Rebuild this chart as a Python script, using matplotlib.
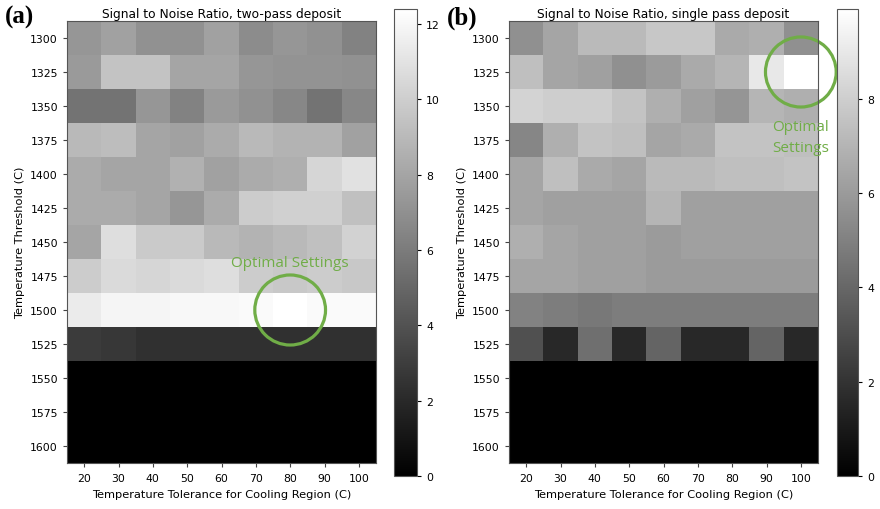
import numpy as np
import matplotlib
matplotlib.use("Agg")
import matplotlib.pyplot as plt
from matplotlib.patches import Circle

tolerance = [20, 30, 40, 50, 60, 70, 80, 90, 100]
threshold = [1300, 1325, 1350, 1375, 1400, 1425, 1450, 1475, 1500, 1525, 1550, 1575, 1600]

# signal to noise ratio, two-pass deposit (rows = threshold, cols = tolerance)
snr_two = [
    [7.3, 7.8, 7.05, 7.05, 7.8, 6.8, 7.3, 7.05, 6.3],
    [7.5, 9.5, 9.5, 8.0, 8.0, 7.3, 7.2, 7.2, 7.05],
    [5.6, 5.6, 7.3, 6.3, 7.5, 7.05, 6.55, 5.6, 6.55],
    [9.0, 9.2, 8.0, 7.8, 8.3, 9.0, 8.75, 8.75, 7.8],
    [8.3, 8.0, 8.0, 8.6, 7.8, 8.3, 8.5, 10.4, 10.9],
    [8.3, 8.3, 8.0, 7.3, 8.3, 9.9, 10.1, 10.1, 9.3],
    [8.0, 10.8, 9.8, 9.8, 9.0, 8.75, 9.0, 9.3, 10.2],
    [9.9, 10.6, 10.4, 10.6, 10.8, 9.9, 9.7, 9.9, 9.7],
    [11.4, 11.9, 11.9, 12.05, 12.05, 12.15, 12.4, 12.15, 12.15],
    [2.9, 2.7, 2.4, 2.4, 2.4, 2.4, 2.4, 2.4, 2.4],
    [0, 0, 0, 0, 0, 0, 0, 0, 0],
    [0, 0, 0, 0, 0, 0, 0, 0, 0],
    [0, 0, 0, 0, 0, 0, 0, 0, 0],
]

# signal to noise ratio, single pass deposit
snr_single = [
    [5.6, 6.4, 7.2, 7.2, 7.7, 7.7, 6.6, 6.8, 5.6],
    [7.4, 6.4, 6.2, 5.6, 6.0, 6.6, 7.0, 9.0, 9.9],
    [8.2, 8.0, 8.0, 7.6, 6.8, 6.2, 5.8, 7.0, 6.8],
    [5.2, 6.8, 7.6, 7.4, 6.4, 6.6, 7.6, 7.6, 7.4],
    [6.4, 7.4, 6.6, 6.4, 7.2, 7.2, 7.4, 7.4, 7.55],
    [6.4, 6.2, 6.2, 6.2, 7.0, 6.2, 6.2, 6.2, 6.2],
    [6.8, 6.4, 6.2, 6.2, 6.0, 6.2, 6.2, 6.2, 6.2],
    [6.4, 6.4, 6.2, 6.2, 6.0, 6.0, 6.0, 6.0, 6.0],
    [5.05, 4.85, 4.65, 4.85, 4.85, 4.85, 4.85, 4.85, 4.85],
    [3.1, 1.55, 4.3, 1.55, 3.9, 1.55, 1.55, 3.9, 1.55],
    [0, 0, 0, 0, 0, 0, 0, 0, 0],
    [0, 0, 0, 0, 0, 0, 0, 0, 0],
    [0, 0, 0, 0, 0, 0, 0, 0, 0],
]

green = '#70AD47'
W, H = 880, 510

def px(x0, y0, x1, y1):
    return [x0 / W, 1 - y1 / H, (x1 - x0) / W, (y1 - y0) / H]

fig = plt.figure(figsize=(8.8, 5.1), dpi=100)

panels = [
    (snr_two, "Signal to Noise Ratio, two-pass deposit", "(a)",
     px(67, 22, 376, 464), px(394, 10, 417, 477), [0, 2, 4, 6, 8, 10, 12]),
    (snr_single, "Signal to Noise Ratio, single pass deposit", "(b)",
     px(509, 22, 818, 464), px(837, 10, 858, 477), [0, 2, 4, 6, 8]),
]

axes = []
for data, title, tag, pos, cpos, cticks in panels:
    ax = fig.add_axes(pos)
    arr = np.array(data)
    im = ax.imshow(arr, cmap='gray', vmin=0, vmax=arr.max(), aspect='auto')
    ax.set_xticks(range(len(tolerance)))
    ax.set_xticklabels(tolerance, fontsize=7.8)
    ax.set_yticks(range(len(threshold)))
    ax.set_yticklabels(threshold, fontsize=7.8)
    ax.set_xlabel("Temperature Tolerance for Cooling Region (C)", fontsize=8.2, labelpad=4)
    ax.set_ylabel("Temperature Threshold (C)", fontsize=8.2)
    ax.set_title(title, fontsize=8.8, pad=3)
    ax.tick_params(length=3, color='#444444')
    ax.tick_params(axis='x', pad=4.5)
    for s in ax.spines.values():
        s.set_color('#555555')
    cax = fig.add_axes(cpos)
    cb = fig.colorbar(im, cax=cax, ticks=cticks)
    cb.ax.tick_params(labelsize=7.8, length=3)
    cb.outline.set_edgecolor('#555555')
    fig.text(pos[0] - 0.071, 0.965, tag, fontsize=18, fontweight='bold',
             family='Liberation Serif', va='center')
    axes.append(ax)

# optimal settings markers
axes[0].add_patch(Circle((6, 8), 1.03, fill=False, ec=green, lw=2.3, clip_on=False))
axes[0].text(6, 6.6, "Optimal Settings", color=green, fontsize=11,
             ha='center', va='center', family='Open Sans')
axes[1].add_patch(Circle((8, 1), 1.03, fill=False, ec=green, lw=2.3, clip_on=False))
axes[1].text(8, 2.9, "Optimal\nSettings", color=green, fontsize=11,
             ha='center', va='center', family='Open Sans', linespacing=1.55)

fig.savefig("out.png", dpi=100)
